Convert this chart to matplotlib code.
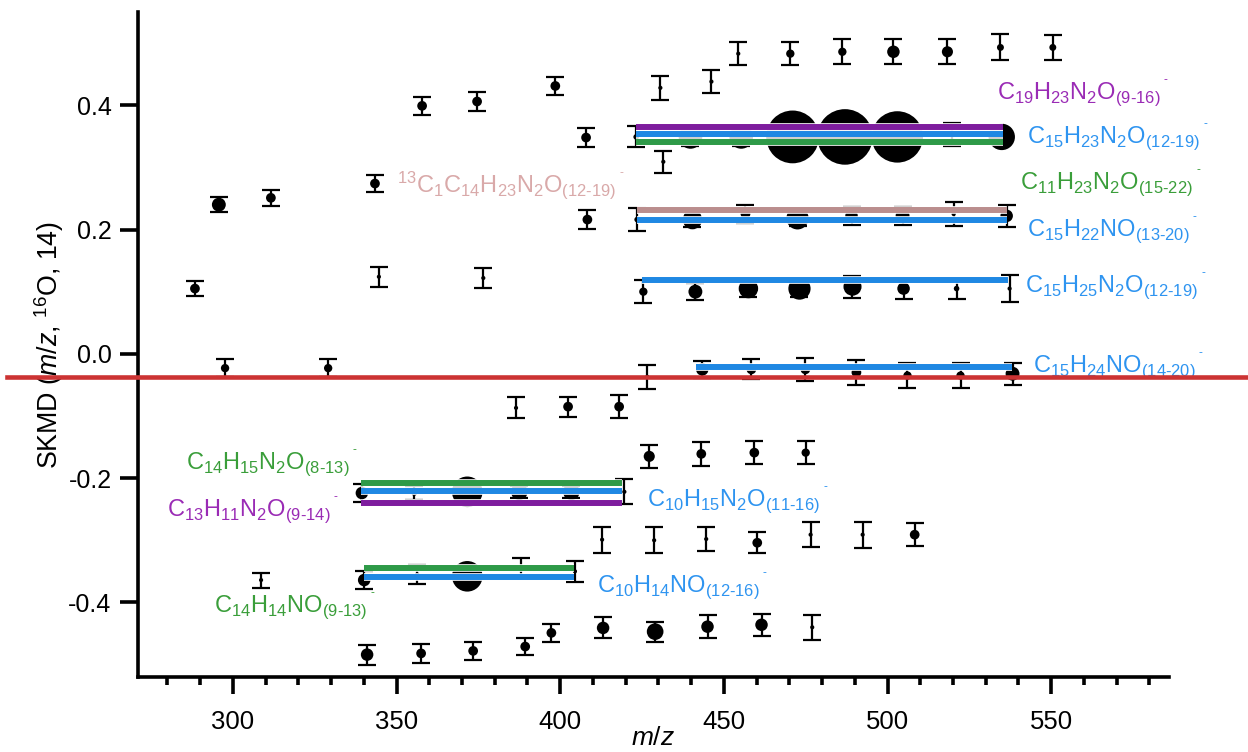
import matplotlib
matplotlib.use('Agg')
import matplotlib.pyplot as plt
import matplotlib.patheffects as pe
from matplotlib.ticker import MultipleLocator
from matplotlib.transforms import blended_transform_factory

plt.rcParams['font.family'] = ['Liberation Sans', 'DejaVu Sans']
plt.rcParams['mathtext.fontset'] = 'custom'
plt.rcParams['mathtext.rm'] = 'Liberation Sans'
plt.rcParams['mathtext.it'] = 'Liberation Sans:italic'
plt.rcParams['axes.unicode_minus'] = False

# measured ions: m/z, SKMD, error, peak size (marker diameter, pt)
mz = [357.8, 374.6, 398.5, 430.6, 446.2, 454.4, 470.3, 486.2, 501.8, 518.3, 534.5, 550.5,
      407.9, 423.2, 439.8, 455.3, 471.0, 487.0, 503.0, 519.6, 534.9, 431.5,
      408.3, 423.5, 440.4, 456.6, 472.5, 489.0, 504.6, 520.2, 536.4,
      344.6, 376.5, 425.4, 441.3, 457.5, 473.1, 489.3, 504.9, 521.1, 537.3,
      288.4, 295.7, 311.6, 343.4,
      297.6, 329.1, 426.6, 443.4, 458.4, 474.9, 490.5, 506.1, 522.3, 538.2,
      386.5, 402.4, 418.0,
      427.2, 443.1, 459.3, 475.0,
      339.4, 355.4, 371.6, 387.5, 403.4, 419.6,
      412.8, 428.7, 444.6, 460.2, 476.5, 492.4, 508.3,
      308.6, 340.1, 356.3, 371.6, 388.0, 404.5,
      341.0, 357.5, 373.4, 389.3, 397.3, 413.1, 429.0, 445.0, 461.5, 477.0]
skmd = [0.399, 0.406, 0.431, 0.428, 0.438, 0.483, 0.483, 0.486, 0.486, 0.486, 0.493, 0.493,
        0.348, 0.349, 0.349, 0.349, 0.349, 0.349, 0.349, 0.353, 0.349, 0.309,
        0.216, 0.216, 0.216, 0.225, 0.218, 0.222, 0.222, 0.225, 0.222,
        0.124, 0.122, 0.100, 0.100, 0.105, 0.105, 0.108, 0.105, 0.105, 0.105,
        0.105, 0.240, 0.251, 0.274,
        -0.023, -0.023, -0.037, -0.025, -0.025, -0.025, -0.030, -0.035, -0.035, -0.032,
        -0.087, -0.085, -0.085,
        -0.165, -0.161, -0.159, -0.159,
        -0.224, -0.224, -0.222, -0.222, -0.222, -0.222,
        -0.299, -0.300, -0.298, -0.304, -0.291, -0.291, -0.291,
        -0.364, -0.364, -0.355, -0.358, -0.343, -0.350,
        -0.484, -0.482, -0.478, -0.471, -0.449, -0.441, -0.447, -0.439, -0.436, -0.440]
err = [0.015, 0.015, 0.014, 0.019, 0.019, 0.019, 0.019, 0.020, 0.020, 0.020, 0.021, 0.020,
       0.015, 0.017, 0.015, 0.015, 0.018, 0.018, 0.018, 0.018, 0.012, 0.018,
       0.015, 0.018, 0.012, 0.014, 0.013, 0.014, 0.014, 0.020, 0.018,
       0.016, 0.016, 0.019, 0.014, 0.014, 0.013, 0.018, 0.016, 0.016, 0.022,
       0.012, 0.012, 0.013, 0.013,
       0.015, 0.015, 0.019, 0.014, 0.016, 0.018, 0.020, 0.020, 0.020, 0.018,
       0.017, 0.016, 0.018,
       0.019, 0.019, 0.019, 0.019,
       0.014, 0.012, 0.012, 0.010, 0.010, 0.020,
       0.021, 0.021, 0.020, 0.017, 0.020, 0.021, 0.019,
       0.012, 0.014, 0.016, 0.012, 0.015, 0.017,
       0.016, 0.015, 0.015, 0.014, 0.014, 0.017, 0.016, 0.018, 0.018, 0.020]
peak = [7, 7, 7, 3, 3, 3, 6, 6, 9, 8, 5, 5,
        7, 4, 17, 17, 38, 40, 37, 3, 19, 3,
        7, 4, 14, 7, 16, 9, 10, 3, 9,
        3, 3, 6, 10, 14, 16, 13, 9, 4, 3,
        7, 10, 7, 7,
        6, 6, 3, 9, 7, 7, 7, 6, 6, 10,
        3, 7, 7,
        8, 7, 7, 6,
        9, 4, 22, 12, 12, 3,
        3, 3, 3, 7, 3, 3, 7,
        3, 9, 3, 22, 3, 3,
        9, 7, 7, 7, 7, 9, 12, 9, 9, 3]

# homologous series fits
fit_names = [r'C_{19}H_{23}N_{2}O_{(9‐16)}', r'C_{15}H_{23}N_{2}O_{(12‐19)}',
             r'C_{11}H_{23}N_{2}O_{(15‐22)}', r'{}^{13}C_{1}C_{14}H_{23}N_{2}O_{(12‐19)}',
             r'C_{15}H_{22}NO_{(13‐20)}', r'C_{15}H_{25}N_{2}O_{(12‐19)}',
             r'C_{15}H_{24}NO_{(14‐20)}', r'C_{14}H_{15}N_{2}O_{(8‐13)}',
             r'C_{10}H_{15}N_{2}O_{(11‐16)}', r'C_{13}H_{11}N_{2}O_{(9‐14)}',
             r'C_{14}H_{14}NO_{(9‐13)}', r'C_{10}H_{14}NO_{(12‐16)}']
fit_y = [0.365, 0.354, 0.341, 0.232, 0.216, 0.119, -0.021, -0.208, -0.220, -0.240, -0.344, -0.359]
fit_start = [423.3, 423.3, 423.3, 423.5, 423.5, 425.0, 441.6, 339.1, 339.1, 339.1, 340.1, 340.1]
fit_end = [535.2, 535.2, 535.2, 536.4, 536.4, 536.7, 537.9, 419.0, 419.0, 419.0, 404.3, 404.3]

red_y = -0.037

purple, blue, green, rose = '#7E1D9E', '#1F88E3', '#2E9A48', '#BA8E8E'
line_colors = [purple, blue, green, rose, blue, blue, blue, green, blue, purple, green, blue]
text_colors = ['#9A2BB5', '#2E94F0', '#3A9E3A', '#D9A9A9', '#2E94F0', '#2E94F0',
               '#2E94F0', '#3A9E3A', '#2E94F0', '#9A2BB5', '#3A9E3A', '#2E94F0']
# label anchors (left, baseline) in data units
label_pos = [(533.3, 0.409), (542.5, 0.339), (540.4, 0.264), (350.2, 0.261),
             (542.5, 0.188), (541.9, 0.098), (544.3, -0.031), (285.6, -0.187),
             (426.6, -0.246), (279.8, -0.262), (294.2, -0.417), (411.3, -0.385)]

fig = plt.figure(figsize=(12.48, 7.52), dpi=100)
ax = fig.add_axes([138 / 1248, 1 - 677 / 752, (1169 - 138) / 1248, (677 - 12) / 752])

ax.errorbar(mz, skmd, yerr=err, fmt='none', ecolor='black', elinewidth=1.6,
            capsize=6.5, capthick=1.6, zorder=2)
ax.scatter(mz, skmd, s=[p ** 2 for p in peak], color='black', linewidths=0, zorder=3)

for y, x0, x1, c in zip(fit_y, fit_start, fit_end, line_colors):
    ax.plot([x0, x1], [y, y], color=c, lw=4.3, solid_capstyle='butt', zorder=4,
            path_effects=[pe.Stroke(linewidth=5.5, foreground='white'), pe.Normal()])

for name, (lx, ly), c in zip(fit_names, label_pos, text_colors):
    ax.text(lx, ly, r'$\mathregular{' + name + r'\,{}^{{}^{‐}}}$', color=c, fontsize=17,
            ha='left', va='baseline', zorder=5)

trans = blended_transform_factory(fig.transFigure, ax.transData)
ax.plot([7 / 1248, 1], [red_y, red_y], color='#CC3333', lw=3.3, transform=trans,
        clip_on=False, zorder=6)

ax.set_xlim(271, 586)
ax.set_ylim(-0.52, 0.55)
ax.xaxis.set_major_locator(MultipleLocator(50))
ax.xaxis.set_minor_locator(MultipleLocator(10))
ax.set_yticks([-0.4, -0.2, 0.0, 0.2, 0.4])
ax.set_yticklabels(['-0.4', '-0.2', '0.0', '0.2', '0.4'])

for s in ['top', 'right']:
    ax.spines[s].set_visible(False)
for s in ['left', 'bottom']:
    ax.spines[s].set_linewidth(2.6)
ax.tick_params(axis='y', which='major', length=13, width=2.6, labelsize=18, pad=6)
ax.tick_params(axis='x', which='major', length=12, width=2.6, labelsize=18.5, pad=12)
ax.tick_params(axis='x', which='minor', length=6, width=2.6)

ax.set_xlabel(r'$\mathit{m/z}$', fontsize=19, labelpad=-6)
ax.set_ylabel(r'SKMD ($\mathit{m/z}$, ${}^{16}$O, 14)', fontsize=19.3, labelpad=2)

fig.savefig('out.png', dpi=100)
